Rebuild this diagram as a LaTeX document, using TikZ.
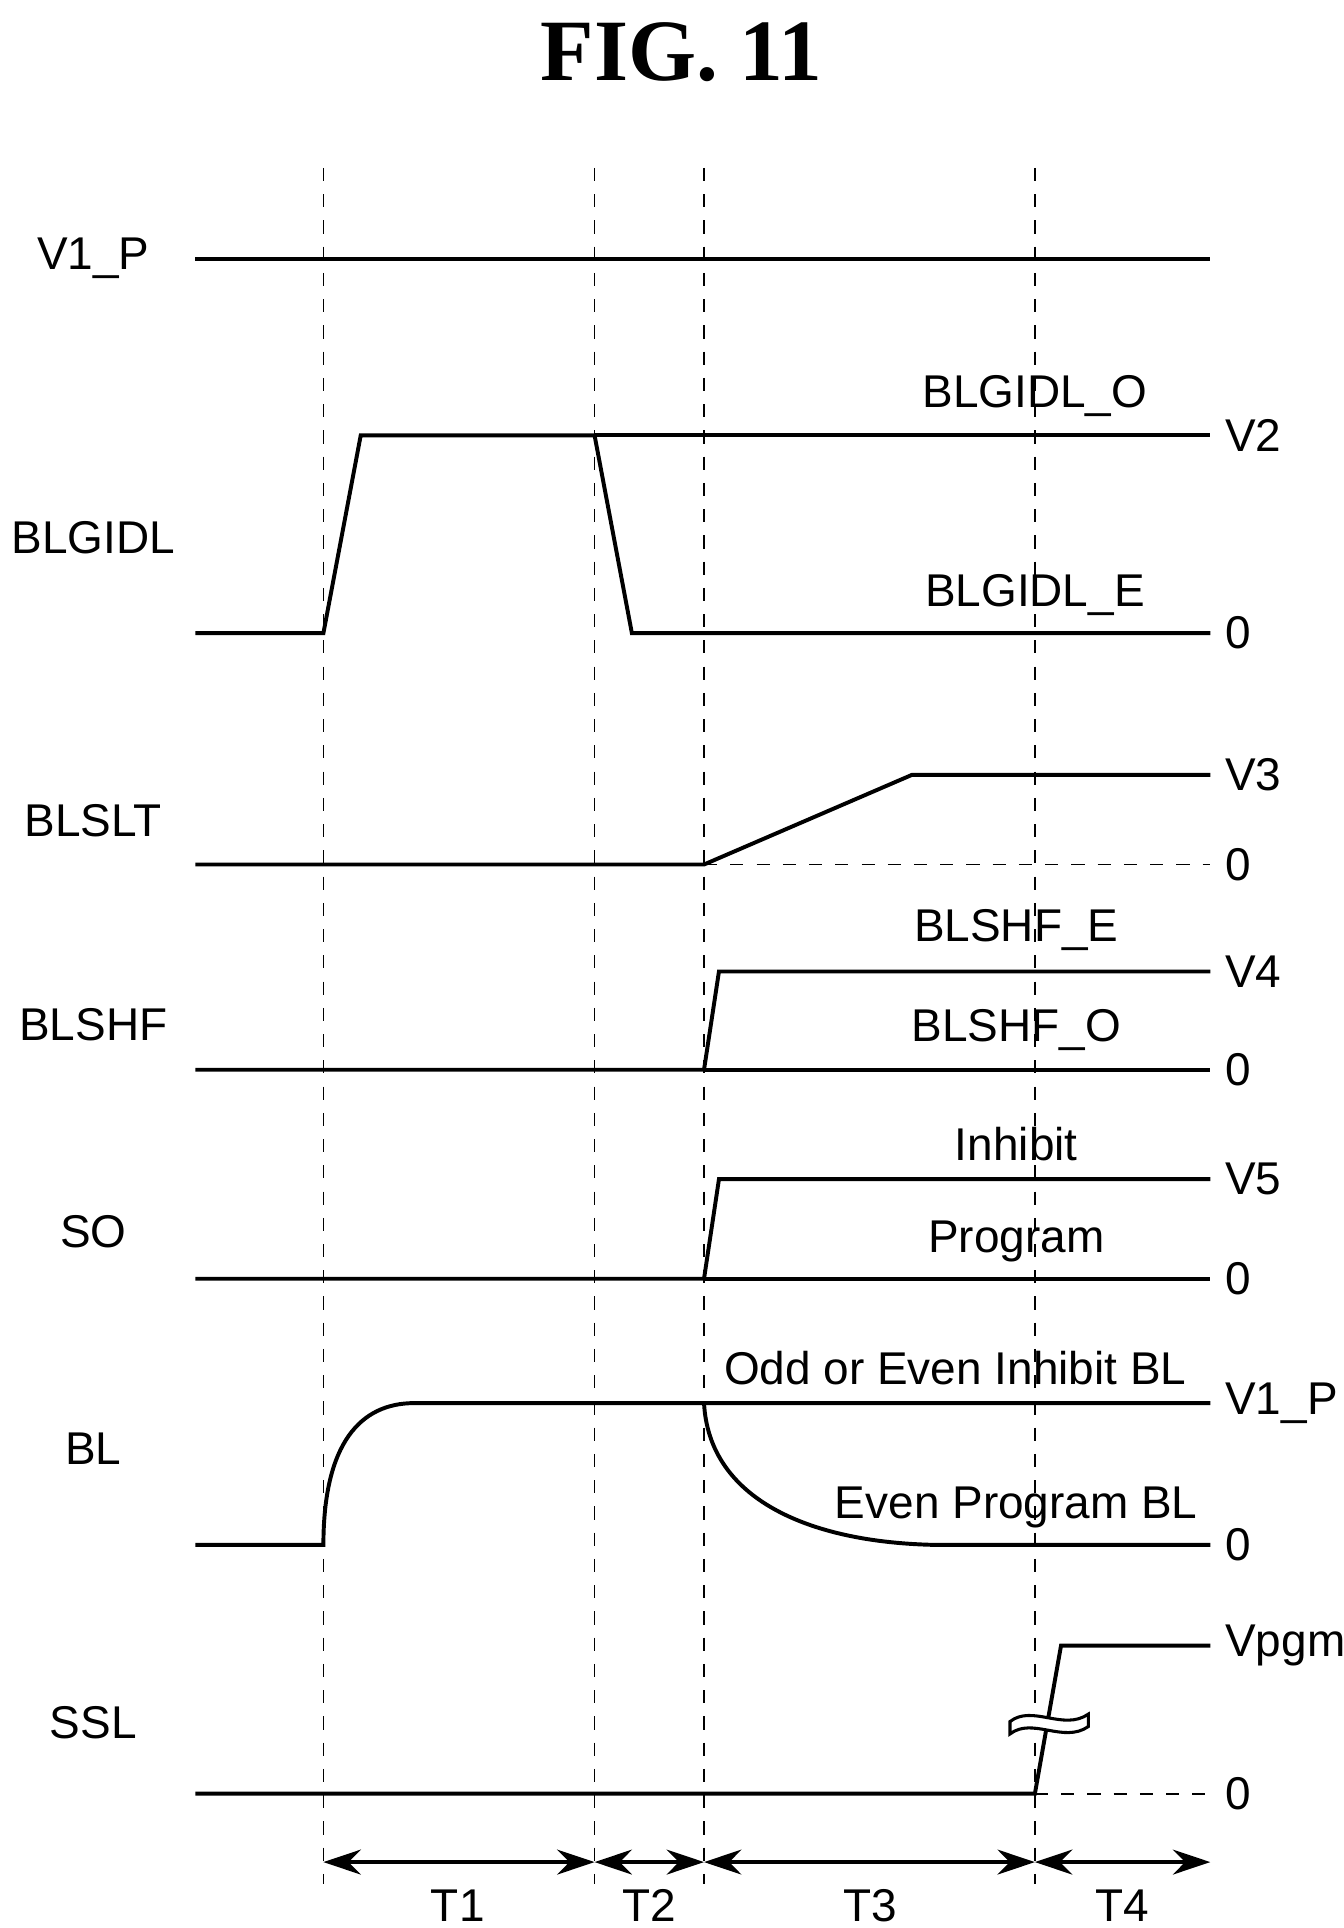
\documentclass[tikz,border=0pt]{standalone}
\usepackage{fontspec}
\setmainfont{Liberation Sans}
\newfontfamily\titlefont{Liberation Serif}
\usetikzlibrary{arrows.meta}
\begin{document}
\begin{tikzpicture}[x=0.01cm, y=-0.01cm,
    line width=0.9pt,
    sig/.style = {font=\fontsize{10.5}{12}\selectfont, inner sep=1pt},
    lvl/.style = {sig, anchor=west},
    phase/.style = {draw, dashed, line width=0.4pt},
    span/.style = {{Stealth[length=3mm,width=2mm]}-{Stealth[length=3mm,width=2mm]}}
  ]
\useasboundingbox (0,0) rectangle (1080,1550);
\node[font=\titlefont\bfseries\fontsize{20}{22}\selectfont] (title) at (548,42) {FIG. 11};

% phase boundaries
\foreach \x/\n in {260/a, 478/b, 566/c, 832/d} {
  \coordinate (top\n) at (\x,135);
  \coordinate (bot\n) at (\x,1515);
  \coordinate (arr\n) at (\x,1497);
  \draw[phase] (top\n) -- (bot\n);
}
\coordinate (arre) at (973,1497);

% signal names
\foreach \y/\t [count=\i] in {208/V1\_P, 432/BLGIDL, 660/BLSLT, 824/BLSHF, 990/SO, 1165/BL, 1385/SSL}
  \node[sig] (name\i) at (75,\y) {\t};

% levels
\foreach \y/\t [count=\i] in {350/V2, 509/0, 623/V3, 695/0, 781/V4, 860/0, 948/V5, 1028/0, 1128/V1\_P, 1242/0, 1323/Vpgm, 1442/0}
  \node[lvl] (lvl\i) at (980,\y) {\t};

% waveforms
\draw (157,208) -- (973,208);
\draw (157,509) -- (260,509) -- (290,350) -- (478,350) -- (508,509) -- (973,509);
\draw (478,350) -- (973,350);
\draw (157,695) -- (566,695) -- (733,623) -- (973,623);
\draw[phase] (566,695) -- (973,695);
\draw (157,860) -- (566,860) -- (578,781) -- (973,781);
\draw (566,860) -- (973,860);
\draw (157,1028) -- (566,1028) -- (578,948) -- (973,948);
\draw (566,1028) -- (973,1028);
\draw (157,1242) -- (260,1242) .. controls (260,1160) and (290,1128) .. (333,1128) -- (973,1128);
\draw (566,1128) .. controls (570,1205) and (650,1240) .. (752,1242) -- (973,1242);
\draw (157,1442) -- (832,1442) -- (853,1323) -- (973,1323);
\draw[phase] (832,1442) -- (973,1442);
\draw[line width=0.7pt, fill=white] (812,1384) .. controls (830,1370) and (855,1392) .. (875,1378)
  -- (875,1388) .. controls (855,1402) and (830,1380) .. (812,1394) -- cycle;

% annotations
\node[sig] (gidlo) at (832,318) {BLGIDL\_O};
\node[sig] (gidle) at (832,478) {BLGIDL\_E};
\node[sig] (shfe) at (817,748) {BLSHF\_E};
\node[sig] (shfo) at (817,828) {BLSHF\_O};
\node[sig] (inh) at (817,920) {Inhibit};
\node[sig] (prog) at (817,998) {Program};
\node[sig] (blinh) at (768,1100) {Odd or Even Inhibit BL};
\node[sig] (blprog) at (817,1212) {Even Program BL};

% periods
\draw[span] (arra) -- (arrb);
\draw[span] (arrb) -- (arrc);
\draw[span] (arrc) -- (arrd);
\draw[span] (arrd) -- (arre);
\foreach \x/\t in {368/T1, 522/T2, 700/T3, 902/T4}
  \node[sig] (lab\t) at (\x,1532) {\t};
\end{tikzpicture}
\end{document}
